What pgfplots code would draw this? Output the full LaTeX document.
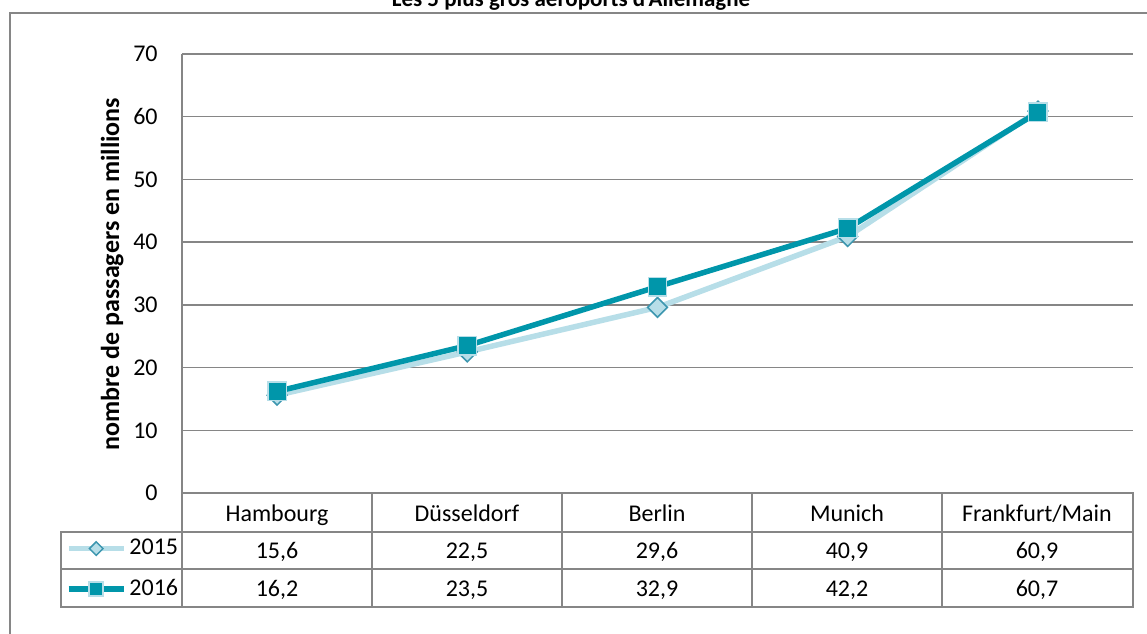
\documentclass[border=0pt]{standalone}
\usepackage{fontspec}
\setmainfont{Carlito}
\usepackage{pgfplots}
\pgfplotsset{compat=1.18}
\definecolor{gridc}{RGB}{134,134,134}
\definecolor{lb}{RGB}{183,222,232}
\definecolor{tealc}{RGB}{0,150,170}
\definecolor{dteal}{RGB}{60,150,175}
\pgfplotsset{
  legA/.style={legend image code/.code={\draw[mark repeat=2,mark phase=2,##1,mark size=2.4pt] plot coordinates {(0pt,0pt) (13.75pt,0pt) (27.5pt,0pt)};}},
  legB/.style={legend image code/.code={\draw[mark repeat=2,mark phase=2,##1,mark size=3.5pt] plot coordinates {(0pt,0pt) (13.75pt,0pt) (27.5pt,0pt)};}},
}
\begin{document}
\fontsize{12pt}{14pt}\selectfont
\begin{tikzpicture}
\begin{scope}[x=0.5pt,y=-0.5pt]
\useasboundingbox (0,0) rectangle (1147,633);
\clip (0,0) rectangle (1147,633);
\draw[gridc, line width=0.75pt] (10,13) rectangle (1200,700);
\node[anchor=base, font=\fontsize{11.5pt}{13pt}\selectfont\bfseries, inner sep=0pt] at (571,6) {Les 5 plus gros aéroports d'Allemagne};
\node[anchor=base, font=\fontsize{13pt}{15pt}\selectfont\bfseries, rotate=90, inner sep=0pt] at (119,274) {nombre de passagers en millions};
\end{scope}
\begin{axis}[
  at={(91pt,-246.5pt)}, anchor=south west,
  width=475.5pt, height=219.5pt, scale only axis,
  xmin=-0.5, xmax=4.5, ymin=0, ymax=70,
  ytick={0,10,...,70},
  xtick=\empty,
  ymajorgrids, grid style={gridc, line width=0.75pt},
  axis lines*=left, axis line style={gridc, line width=0.75pt},
  major tick length=0pt,
  /pgf/number format/assume math mode=true,
  yticklabel style={xshift=-8pt, font=\fontsize{12pt}{14pt}\selectfont, text=black},
  clip=false,
  legend style={draw=none, fill=none, at={(axis description cs:-0.1220,-0.1731)}, anchor=west,
    inner sep=0pt, outer sep=0pt, row sep=10.5pt, column sep=1.5pt,
    nodes={inner sep=0pt, anchor=west}, font=\fontsize{12pt}{14pt}\selectfont},
  legend cell align=left,
]
\addplot[lb, line width=2.75pt, mark=square*, mark size=3.5pt,
  mark options={rotate=45, fill=lb, draw=dteal, line width=0.75pt, solid}, legA]
  coordinates {(0,15.6) (1,22.5) (2,29.6) (3,40.9) (4,60.9)};
\addlegendentry{2015}
\addplot[tealc, line width=2.75pt, mark=square*, mark size=4.6pt,
  mark options={fill=tealc, draw=lb, line width=0.75pt, solid}, legB]
  coordinates {(0,16.2) (1,23.5) (2,32.9) (3,42.2) (4,60.7)};
\addlegendentry{2016}
\end{axis}
\begin{scope}[x=0.5pt,y=-0.5pt]
\draw[gridc, line width=0.75pt] (182,493) -- (1133,493) -- (1133,607) -- (61,607) -- (61,532) -- (1133,532);
\draw[gridc, line width=0.75pt] (61,569) -- (1133,569);
\foreach \xx in {182,372,562,752,942} \draw[gridc, line width=0.75pt] (\xx,493) -- (\xx,607);
\foreach \xx/\lab in {277/Hambourg,467/Düsseldorf,657/Berlin,847/Munich,1037/Frankfurt\slash Main}
  \node[anchor=base, inner sep=0pt] at (\xx,521) {\lab};
\foreach \xx/\lab in {277/{15,6},467/{22,5},657/{29,6},847/{40,9},1037/{60,9}}
  \node[anchor=base, inner sep=0pt] at (\xx,558) {\lab};
\foreach \xx/\lab in {277/{16,2},467/{23,5},657/{32,9},847/{42,2},1037/{60,7}}
  \node[anchor=base, inner sep=0pt] at (\xx,596) {\lab};
\end{scope}
\end{tikzpicture}
\end{document}
